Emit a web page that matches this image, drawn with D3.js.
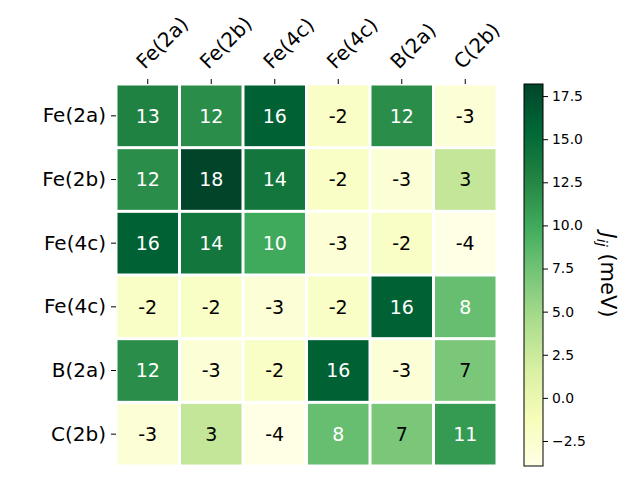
<!DOCTYPE html>
<html>
<head>
<meta charset="utf-8">
<script src="https://cdn.jsdelivr.net/npm/d3@7"></script>
<style>
  body { margin: 0; background: #fff; }
  svg { display: block; }
  svg text { font-family: "DejaVu Sans", sans-serif; }
</style>
</head>
<body>
<svg id="chart" width="640" height="480"></svg>
<script>
// ---- data ----
const rowLabels = ["Fe(2a)", "Fe(2b)", "Fe(4c)", "Fe(4c)", "B(2a)", "C(2b)"];
const colLabels = ["Fe(2a)", "Fe(2b)", "Fe(4c)", "Fe(4c)", "B(2a)", "C(2b)"];
const row0 = [13, 12, 16, -2, 12, -3];
const row1 = [12, 18.2, 14, -2, -3, 3];
const row2 = [16, 14, 10, -3, -2, -3.95];
const row3 = [-2, -2, -3, -2, 16, 8];
const row4 = [12, -3, -2, 16, -3, 7];
const row5 = [-3, 3, -3.95, 8, 7, 11];
const matrix = [row0, row1, row2, row3, row4, row5];
const cbTicks = [-2.5, 0, 2.5, 5, 7.5, 10, 12.5, 15, 17.5];
const cbLabel = "(meV)";

// ---- style ----
const FONT = "DejaVu Sans, sans-serif";
const ylgn = ["#ffffe5","#f7fcb9","#d9f0a3","#addd8e","#78c679","#41ab5d","#238443","#006837","#004529"];
const svg = d3.select("#chart");
const L = 116, R = 497, T = 84, B = 466;

const all = matrix.flat();
const vmin = d3.min(all), vmax = d3.max(all);
const norm = d3.scaleLinear().domain([vmin, vmax]).range([0, 1]);
const cmap = d3.scaleLinear().domain(d3.range(9).map(i => i / 8)).range(ylgn).interpolate(d3.interpolateRgb).clamp(true);
const color = v => cmap(norm(v));

const x = d3.scaleBand().domain(d3.range(colLabels.length)).range([L, R]);
const y = d3.scaleBand().domain(d3.range(rowLabels.length)).range([T, B]);

const cells = [];
matrix.forEach((row, i) => row.forEach((v, j) => cells.push({i, j, v})));

const g = svg.append("g").attr("font-family", FONT);
g.selectAll("rect.cell").data(cells).enter().append("rect")
  .attr("class", "cell")
  .attr("x", d => x(d.j) + 1.5)
  .attr("y", d => y(d.i) + 1.5)
  .attr("width", x.bandwidth() - 3)
  .attr("height", y.bandwidth() - 3)
  .attr("fill", d => color(d.v));

g.selectAll("text.val").data(cells).enter().append("text")
  .attr("class", "val")
  .attr("x", d => x(d.j) + x.bandwidth() / 2)
  .attr("y", d => y(d.i) + y.bandwidth() / 2)
  .attr("dy", "0.36em")
  .attr("text-anchor", "middle")
  .attr("font-size", 19)
  .attr("fill", d => norm(d.v) > 0.5 ? "#fff" : "#000")
  .text(d => d3.format(".0f")(d.v).replace("−", "-"));

// top axis
const xAxis = d3.axisTop(x).tickSize(5).tickSizeOuter(0).tickFormat(i => colLabels[i]);
const gx = svg.append("g").attr("transform", `translate(0,${T})`).call(xAxis).attr("font-family", FONT);
gx.select(".domain").remove();
gx.selectAll(".tick line").attr("stroke", "#000").attr("stroke-width", 1);
gx.selectAll(".tick text")
  .attr("font-size", 20)
  .attr("fill", "#000")
  .attr("text-anchor", "start")
  .attr("x", 0).attr("y", 0).attr("dy", 0)
  .attr("transform", "translate(-3,-14) rotate(-45)");

// left axis
const yAxis = d3.axisLeft(y).tickSize(5).tickPadding(5).tickSizeOuter(0).tickFormat(i => rowLabels[i]);
const gy = svg.append("g").attr("transform", `translate(${L},0)`).call(yAxis).attr("font-family", FONT);
gy.select(".domain").remove();
gy.selectAll(".tick line").attr("stroke", "#000").attr("stroke-width", 1);
gy.selectAll(".tick text").attr("font-size", 20).attr("fill", "#000");

// colorbar
const cbX = 524, cbW = 19;
const cy = d3.scaleLinear().domain([vmin, vmax]).range([B, T]);
const defs = svg.append("defs");
const grad = defs.append("linearGradient").attr("id", "cbgrad")
  .attr("x1", 0).attr("y1", 1).attr("x2", 0).attr("y2", 0);
d3.range(0, 1.0001, 0.125).forEach(t => {
  grad.append("stop").attr("offset", t).attr("stop-color", cmap(t));
});
svg.append("rect").attr("x", cbX).attr("y", T).attr("width", cbW).attr("height", B - T)
  .attr("fill", "url(#cbgrad)");
svg.append("rect").attr("x", cbX).attr("y", T).attr("width", cbW).attr("height", B - T)
  .attr("fill", "none").attr("stroke", "#000").attr("stroke-width", 1);
const cAxis = d3.axisRight(cy).tickValues(cbTicks).tickSize(5).tickPadding(4).tickFormat(d3.format(".1f"));
const gc = svg.append("g").attr("transform", `translate(${cbX + cbW},0)`).call(cAxis).attr("font-family", FONT);
gc.select(".domain").remove();
gc.selectAll(".tick line").attr("stroke", "#000");
gc.selectAll(".tick text").attr("font-size", 13.9).attr("fill", "#000");

// colorbar label
const lab = svg.append("text")
  .attr("transform", `translate(601,${(T + B) / 2}) rotate(90)`)
  .attr("text-anchor", "middle")
  .attr("font-family", FONT)
  .attr("font-size", 21)
  .attr("fill", "#000");
lab.append("tspan").attr("font-style", "italic").text("J");
lab.append("tspan").attr("font-style", "italic").attr("font-size", 14.5).attr("dy", 4).text("ij");
lab.append("tspan").attr("dy", -4).text(" " + cbLabel);
</script>
</body>
</html>
